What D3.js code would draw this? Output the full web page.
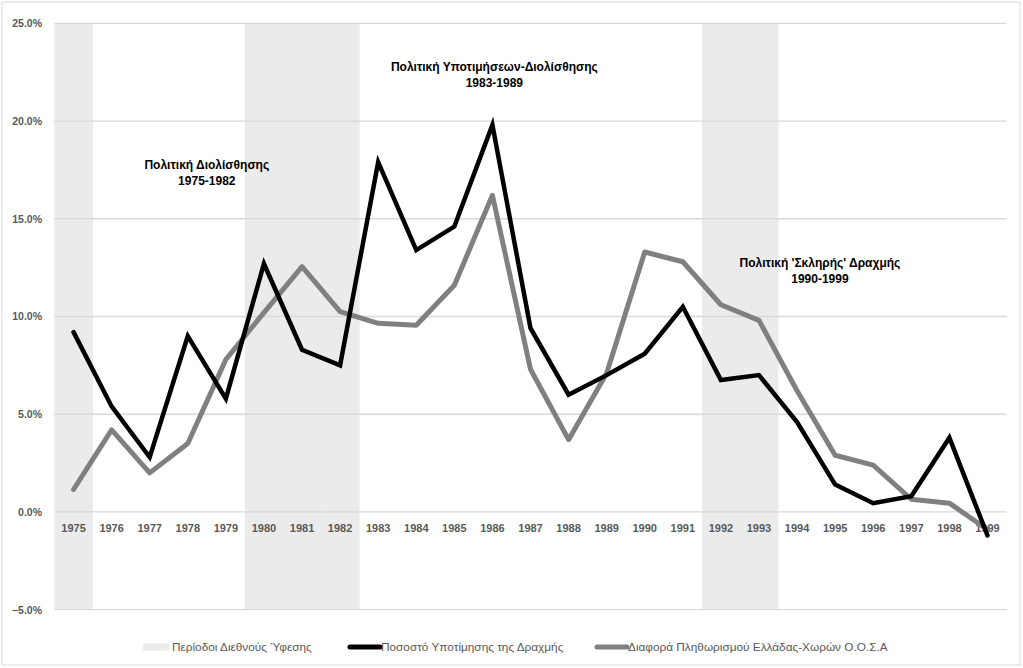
<!DOCTYPE html>
<html>
<head>
<meta charset="utf-8">
<script src="https://cdn.jsdelivr.net/npm/d3@7/dist/d3.min.js"></script>
<style>
  html, body { margin: 0; padding: 0; background: #fff; }
  svg { display: block; }
  text { font-family: "Liberation Sans", Arial, sans-serif; }
</style>
</head>
<body>
<svg id="chart" width="1023" height="668"></svg>
<script>
const years = ["1975","1976","1977","1978","1979","1980","1981","1982","1983","1984","1985","1986","1987","1988","1989","1990","1991","1992","1993","1994","1995","1996","1997","1998","1999"];
const devaluation = [9.2, 5.4, 2.8, 9.0, 5.8, 12.7, 8.3, 7.5, 17.9, 13.4, 14.6, 19.8, 9.4, 6.0, 7.0, 8.1, 10.5, 6.75, 7.0, 4.6, 1.4, 0.45, 0.8, 3.8, -1.2];
const inflationDiff = [1.15, 4.2, 2.0, 3.5, 7.8, 10.2, 12.55, 10.25, 9.65, 9.55, 11.6, 16.2, 7.3, 3.7, 7.1, 13.3, 12.8, 10.6, 9.8, 6.2, 2.9, 2.4, 0.65, 0.45, -0.9];
const recessionYears = ["1975","1980","1981","1982","1992","1993"];
const yTicks = [-5, 0, 5, 10, 15, 20, 25];
const seriesNames = ["Περίοδοι Διεθνούς Ύφεσης", "Ποσοστό Υποτίμησης της Δραχμής", "Διαφορά Πληθωρισμού Ελλάδας-Χωρών Ο.Ο.Σ.Α"];
const annotations = [
  { lines: ["Πολιτική Διολίσθησης", "1975-1982"], year: "1978", yv: 17.55, dx: 0.5 },
  { lines: ["Πολιτική Υποτιμήσεων-Διολίσθησης", "1983-1989"], year: "1986", yv: 22.55, dx: 0.05 },
  { lines: ["Πολιτική 'Σκληρής' Δραχμής", "1990-1999"], year: "1994", yv: 12.55, dx: 0.6 }
];

const svg = d3.select("#chart");
const x = d3.scaleBand().domain(years).range([54.5, 1006.5]).padding(0);
const y = d3.scaleLinear().domain([-5, 25]).range([609.7, 23.3]);
const cx = d => x(d) + x.bandwidth() / 2;

// outer border
svg.append("rect").attr("x", 2).attr("y", 2).attr("width", 1018).attr("height", 663)
  .attr("fill", "#fff").attr("stroke", "#d9d9d9").attr("stroke-width", 1);

// recession bands
svg.append("g").selectAll("rect").data(recessionYears).join("rect")
  .attr("x", d => x(d)).attr("width", x.bandwidth() + 0.5)
  .attr("y", y(25)).attr("height", y(-5) - y(25))
  .attr("fill", "#ebebeb");

// gridlines
svg.append("g").selectAll("line").data(yTicks).join("line")
  .attr("x1", x.range()[0]).attr("x2", x.range()[1])
  .attr("y1", d => y(d)).attr("y2", d => y(d))
  .attr("stroke", "#d9d9d9").attr("stroke-width", 1.3);

// y axis
const yAxis = d3.axisLeft(y).tickValues(yTicks).tickSize(0).tickPadding(0)
  .tickFormat(d => d3.format(".1f")(d) + "%");
const ya = svg.append("g").attr("transform", "translate(42,0)").call(yAxis);
ya.select(".domain").remove();
ya.selectAll("text").attr("fill", "#595959").style("font-size", "10.5px").style("font-weight", "bold")
  .style("font-family", "'Liberation Sans', Arial, sans-serif");

// x axis labels
const xAxis = d3.axisBottom(x).tickSize(0).tickPadding(0);
const xa = svg.append("g").attr("transform", `translate(0,${y(0) + 12})`).call(xAxis);
xa.select(".domain").remove();
xa.selectAll("text").attr("fill", "#595959").style("font-size", "11px").style("font-weight", "bold")
  .style("font-family", "'Liberation Sans', Arial, sans-serif");

// lines
const line = d3.line().x((d, i) => cx(years[i])).y(d => y(d));
svg.append("path").datum(inflationDiff).attr("d", line)
  .attr("fill", "none").attr("stroke", "#808080").attr("stroke-width", 5).attr("stroke-linejoin", "round").attr("stroke-linecap", "round");
svg.append("path").datum(devaluation).attr("d", line)
  .attr("fill", "none").attr("stroke", "#000").attr("stroke-width", 4.5).attr("stroke-linejoin", "miter").attr("stroke-linecap", "round");

// annotations
annotations.forEach(a => {
  const ax = cx(a.year) + a.dx * x.bandwidth();
  const t = svg.append("text").attr("text-anchor", "middle")
    .attr("x", ax).attr("y", y(a.yv))
    .attr("fill", "#000").style("font-size", "12px").style("font-weight", "bold");
  a.lines.forEach((l, i) => t.append("tspan").attr("x", ax).attr("dy", i === 0 ? 0 : 16).text(l));
});

// legend
const lg = svg.append("g").attr("transform", "translate(0,647)");
const items = [
  { x: 143, type: "rect", color: "#ebebeb" },
  { x: 350, type: "line", color: "#000" },
  { x: 597, type: "line", color: "#808080" }
];
items.forEach((it, i) => {
  if (it.type === "rect") {
    lg.append("rect").attr("x", it.x).attr("y", -3.5).attr("width", 26).attr("height", 7).attr("fill", it.color);
  } else {
    lg.append("line").attr("x1", it.x).attr("x2", it.x + 30).attr("y1", 0).attr("y2", 0)
      .attr("stroke", it.color).attr("stroke-width", 5).attr("stroke-linecap", "round");
  }
  lg.append("text").attr("x", it.x + (it.type === "rect" ? 29 : 31)).attr("y", 0).attr("dy", "0.35em")
    .attr("fill", "#595959").style("font-size", "11.8px").text(seriesNames[i]);
});
</script>
</body>
</html>
